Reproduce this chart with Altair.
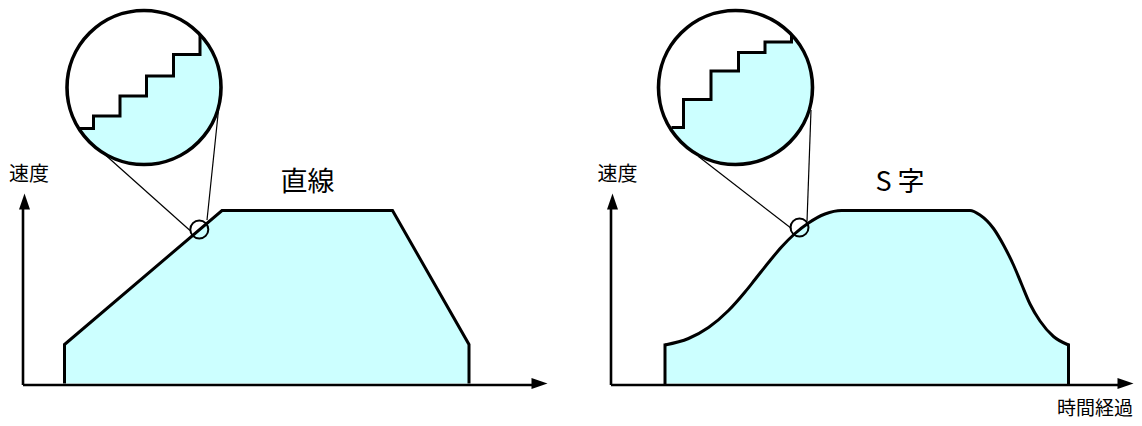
import altair as alt
import pandas as pd

# ---------------- values (time units / speed units) ----------------
# Left panel: linear (trapezoidal) speed profile
lin_t = [8.0, 8.0, 39.5, 73.6, 88.9, 88.9]
lin_v = [0.0, 7.8, 34.6, 34.6, 7.8, 0.0]

# Right panel: S-curve speed profile
s_t = [10.5, 15.2, 19.2, 23.2, 26.5, 28.5, 31.2, 33.8, 36.5, 39.2, 42.5, 45.8,
       71.5, 73.5, 76.2, 78.2, 80.2, 81.8, 83.5, 85.5, 88.2, 91.2]
s_v = [7.7, 9.0, 11.2, 14.6, 18.3, 20.8, 24.2, 27.3, 30.0, 32.1, 33.9, 34.6,
       34.6, 33.7, 31.0, 27.7, 23.7, 19.9, 15.9, 12.5, 9.4, 7.7]

# Magnified staircase (digital steps) shown inside the loupe
lin_step_t = [10.9, 13.8, 19.1, 24.4, 29.8, 35.1]
lin_step_v = [51.0, 53.5, 57.5, 61.5, 65.8, 69.8]
s_step_t = [11.8, 14.2, 19.7, 25.2, 30.5, 35.8]
s_step_v = [51.2, 56.8, 62.5, 66.2, 68.3, 69.7]

# Loupe (big circle) and spot (small circle) centres
lin_loupe = (23.9, 59.2)
s_loupe = (24.6, 59.2)
lin_spot = (34.96, 30.8)
s_spot = (37.4, 31.2)
loupe_radius = 15.4  # in time units

# Connector lines (loupe -> spot): t, v, t2, v2
lin_links = [(15.4, 46.4, 33.1, 30.6), (38.8, 54.7, 36.5, 32.7)]
s_links = [(17.2, 45.4, 35.8, 31.0), (39.7, 54.7, 38.9, 32.4)]

# Axis arrow tips
lin_axis_tip = (104.6, 38.0)
s_axis_tip = (104.2, 38.0)

# Texts
lin_texts = [("速度", 0.9, 40.6, 20, "center"), ("直線", 56.6, 38.5, 27, "center")]
s_texts = [("速度", 1.0, 40.6, 20, "center"), ("S 字", 57.5, 38.5, 27, "center"),
           ("時間経過", 104.1, -6.2, 19, "right")]

# ---------------- styling ----------------
CYAN = "#CCFFFF"
FONT = "Noto Sans CJK JP"
W, H = 563, 410
Y_DOM = [-6.9, 75.1]
X_DOM_L = [-3.3, 109.3]
X_DOM_R = [-8.3, 104.3]
LOUPE_SIZE = (2 * loupe_radius * 5) ** 2
UP = "M0,-1L0.6875,1L-0.6875,1Z"
RIGHT = "M1,0L-1,-0.6875L-1,0.6875Z"


def panel(xdom, prof_t, prof_v, curved, step_t, step_v, loupe, spot, links, tip, texts):
    xs = alt.Scale(domain=xdom, nice=False, zero=False)
    ys = alt.Scale(domain=Y_DOM, nice=False, zero=False)
    X = lambda f="t": alt.X(f, type="quantitative", scale=xs, axis=None)
    Y = lambda f="v": alt.Y(f, type="quantitative", scale=ys, axis=None)

    layers = []
    prof = pd.DataFrame({"t": prof_t, "v": prof_v, "i": range(len(prof_t))})
    if curved:
        layers.append(alt.Chart(prof).mark_area(color=CYAN, interpolate="monotone", opacity=1, clip=True)
                      .encode(x=X(), y=Y(), y2=alt.datum(0)))
        layers.append(alt.Chart(prof).mark_line(color="black", strokeWidth=3, interpolate="monotone", clip=True)
                      .encode(x=X(), y=Y(), order="i:Q"))
        edges = pd.DataFrame({"t": [prof_t[0], prof_t[-1]], "v": [prof_v[0], prof_v[-1]]})
        layers.append(alt.Chart(edges).mark_rule(color="black", strokeWidth=3, strokeCap="square", clip=True)
                      .encode(x=X(), y=Y(), y2=alt.datum(0)))
    else:
        top = prof.iloc[1:-1]
        layers.append(alt.Chart(top).mark_area(color=CYAN, interpolate="linear", opacity=1, clip=True)
                      .encode(x=X(), y=Y(), y2=alt.datum(0)))
        layers.append(alt.Chart(prof).mark_line(color="black", strokeWidth=3, strokeJoin="miter", clip=True)
                      .encode(x=X(), y=Y(), order="i:Q"))

    # axes with arrow heads
    axes = pd.DataFrame({"t": [-0.3, -0.3], "v": [-0.3, -0.3],
                         "t2": [tip[0] - 2.0, -0.3], "v2": [-0.3, tip[1] - 2.0]})
    layers.append(alt.Chart(axes).mark_rule(color="black", strokeWidth=2.6, clip=True)
                  .encode(x=X(), y=Y(), x2="t2:Q", y2="v2:Q"))
    layers.append(alt.Chart(pd.DataFrame({"t": [0.0], "v": [tip[1] - 1.6]}))
                  .mark_point(shape=UP, filled=True, color="black", size=256, opacity=1, clip=True)
                  .encode(x=X(), y=Y()))
    layers.append(alt.Chart(pd.DataFrame({"t": [tip[0] - 1.6], "v": [0.0]}))
                  .mark_point(shape=RIGHT, filled=True, color="black", size=256, opacity=1, clip=True)
                  .encode(x=X(), y=Y()))

    # spot circle
    layers.append(alt.Chart(pd.DataFrame({"t": [spot[0]], "v": [spot[1]]}))
                  .mark_point(shape="circle", filled=False, color="black", strokeWidth=2,
                              size=324, opacity=1, clip=True)
                  .encode(x=X(), y=Y()))
    # connector lines
    ldf = pd.DataFrame(links, columns=["t", "v", "t2", "v2"])
    layers.append(alt.Chart(ldf).mark_rule(color="black", strokeWidth=1.2, clip=True)
                  .encode(x=X(), y=Y(), x2="t2:Q", y2="v2:Q"))

    # loupe: cyan disc, white mask above the steps, step line, ring
    cdf = pd.DataFrame({"t": [loupe[0]], "v": [loupe[1]]})
    layers.append(alt.Chart(cdf).mark_point(shape="circle", filled=True, color=CYAN,
                                            size=LOUPE_SIZE, opacity=1, clip=True)
                  .encode(x=X(), y=Y()))
    mask = pd.DataFrame({"t": [loupe[0] - loupe_radius - 1.5] + step_t,
                         "v": [step_v[0]] + step_v})
    layers.append(alt.Chart(mask).mark_area(color="white", interpolate="step-after", opacity=1, clip=True)
                  .encode(x=X(), y=Y(), y2=alt.datum(Y_DOM[1])))
    sdf = pd.DataFrame({"t": step_t, "v": step_v})
    layers.append(alt.Chart(sdf).mark_line(color="black", strokeWidth=3, interpolate="step-after",
                                           strokeJoin="miter", clip=True)
                  .encode(x=X(), y=Y()))
    layers.append(alt.Chart(cdf).mark_point(shape="circle", filled=False, color="black",
                                            strokeWidth=3.6, size=LOUPE_SIZE, opacity=1, clip=True)
                  .encode(x=X(), y=Y()))

    # texts
    for txt, tt, vv, fs, al in texts:
        layers.append(alt.Chart(pd.DataFrame({"t": [tt], "v": [vv], "s": [txt]}))
                      .mark_text(font=FONT, fontSize=fs, align=al, baseline="alphabetic",
                                 color="black", clip=True)
                      .encode(x=X(), y=Y(), text="s:N"))

    return alt.layer(*layers).properties(width=W, height=H)


left = panel(X_DOM_L, lin_t, lin_v, False, lin_step_t, lin_step_v, lin_loupe, lin_spot,
             lin_links, lin_axis_tip, lin_texts)
right = panel(X_DOM_R, s_t, s_v, True, s_step_t, s_step_v, s_loupe, s_spot,
              s_links, s_axis_tip, s_texts)

chart = (alt.hconcat(left, right, spacing=0)
         .properties(padding=0, background="white")
         .configure_view(stroke=None))

chart.save("out.html", embed_options={"renderer": "svg", "actions": False})
